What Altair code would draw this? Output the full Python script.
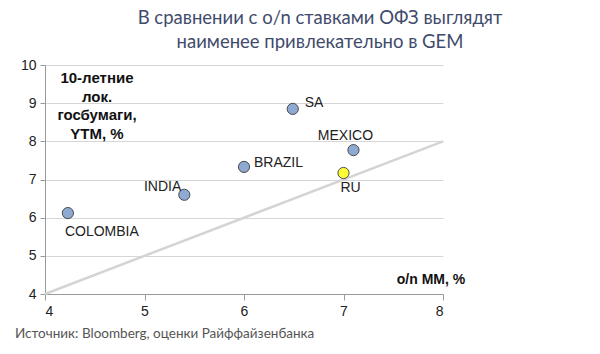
import altair as alt
import pandas as pd

countries = ["COLOMBIA", "INDIA", "BRAZIL", "SA", "MEXICO", "RU"]
on_rate = [4.23, 5.40, 6.00, 6.49, 7.10, 7.00]
ytm = [6.12, 6.60, 7.33, 8.85, 7.77, 7.17]
is_ru = [False, False, False, False, False, True]

line_x = [4, 8]
line_y = [4, 8]

x_ticks = [4, 5, 6, 7, 8]
y_ticks = [4, 5, 6, 7, 8, 9, 10]

title_lines = ["В сравнении с o/n ставками ОФЗ выглядят", "наименее привлекательно в GEM"]
y_label = "10-летние\nлок.\nгосбумаги,\nYTM, %"
x_label = "o/n MM, %"
source = "Источник: Bloomberg, оценки Райффайзенбанка"

df = pd.DataFrame({"country": countries, "x": on_rate, "y": ytm, "ru": is_ru})
ldf = pd.DataFrame({"x": line_x, "y": line_y})

W, H = 398, 229
AX = "Liberation Sans"

xs = alt.Scale(domain=[4, 8], nice=False)
ys = alt.Scale(domain=[4, 10], nice=False)

x_axis = alt.Axis(values=x_ticks, format="d", title=None, grid=False, labelOverlap=False,
                  domainColor="#9a9a9a", tickColor="#9a9a9a", tickSize=6,
                  labelFontSize=14, labelFont=AX, labelColor="#222", labelPadding=4)
y_axis = alt.Axis(values=y_ticks, format="d", title=None, grid=True, labelOverlap=False,
                  gridColor="#d6d6d6", domainColor="#9a9a9a", tickColor="#9a9a9a", tickSize=5,
                  labelFontSize=14, labelFont=AX, labelColor="#222", labelPadding=4)

X = alt.X("x:Q", scale=xs, axis=x_axis)
Y = alt.Y("y:Q", scale=ys, axis=y_axis)

line = alt.Chart(ldf).mark_line(color="#d4d4d4", strokeWidth=2.5).encode(x=X, y=Y)

points = alt.Chart(df).mark_point(filled=True, size=125, stroke="#4a4a4a", strokeWidth=1, opacity=1).encode(
    x=X, y=Y,
    fill=alt.condition("datum.ru", alt.value("#ffff33"), alt.value("#8eaad2")),
)

offsets = {
    "COLOMBIA": (-3, 19, "left"),
    "INDIA": (-3, -8, "right"),
    "BRAZIL": (10, -4, "left"),
    "SA": (12, -6, "left"),
    "MEXICO": (-8, -14, "center"),
    "RU": (7, 15, "center"),
}

labels = []
for c in countries:
    dx, dy, al = offsets[c]
    labels.append(
        alt.Chart(df).transform_filter(alt.datum.country == c).mark_text(
            dx=dx, dy=dy, align=al, baseline="middle", font=AX, fontSize=14, color="#222"
        ).encode(x=X, y=Y, text="country:N")
    )

one = pd.DataFrame({"a": [0]})

title = alt.Chart(one).mark_text(
    text="\n".join(title_lines), lineBreak="\n", lineHeight=24, font="Lato", fontSize=18.5,
    color="#3f4b6c", align="center", baseline="middle"
).encode(x=alt.value(275), y=alt.value(-47))

ylab = alt.Chart(one).mark_text(
    text=y_label, lineBreak="\n", lineHeight=18.5, font=AX, fontSize=15, fontWeight="bold",
    color="#111", align="center", baseline="middle"
).encode(x=alt.value(52), y=alt.value(13))

xlab = alt.Chart(one).mark_text(
    text=x_label, font=AX, fontSize=14, fontWeight="bold", color="#111",
    align="center", baseline="middle"
).encode(x=alt.value(386), y=alt.value(215))

src = alt.Chart(one).mark_text(
    text=source, font="Lato", fontSize=13.5, color="#555", align="left", baseline="middle"
).encode(x=alt.value(-30), y=alt.value(269))

chart = alt.layer(line, points, *labels, title, ylab, xlab, src).properties(
    width=W, height=H,
    autosize=alt.AutoSizeParams(type="none"),
    padding={"left": 45, "top": 65, "right": 157, "bottom": 60},
    background="white",
).configure_view(stroke=None)

chart.save("out.html", embed_options={"renderer": "svg", "actions": False})
